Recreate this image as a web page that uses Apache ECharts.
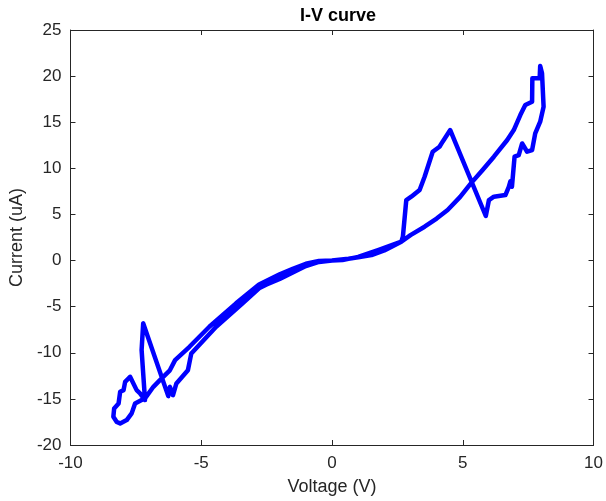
<!DOCTYPE html>
<html>
<head>
<meta charset="utf-8">
<style>
  html, body { margin: 0; padding: 0; background: #fff; }
  #chart { width: 606px; height: 501px; }
</style>
<script src="https://cdn.jsdelivr.net/npm/echarts@6/dist/echarts.min.js"></script>
</head>
<body>
<div id="chart"></div>
<script>
// Measured sweep: voltage (V) and current (uA), in acquisition order
const voltage = [
  0, -0.5, -1.0, -1.5, -2.0, -2.5, -2.79, -3.42,
  -4.43, -5.38, -5.51, -5.95, -6.08, -6.2, -6.26,
  -7.22, -7.28, -7.22, -7.15, -7.34, -7.47, -7.72, -7.91, -7.97, -8.1,
  -8.16, -8.33, -8.36, -8.23, -8.1, -7.85, -7.66, -7.53, -7.28, -7.15,
  -6.83, -6.58, -6.2, -6.0, -5.45, -4.69, -3.67, -2.79, -2.5, -2.0, -1.5, -1.0, -0.5, 0,
  0.63, 1.0, 1.51, 2.0, 2.65,
  2.71, 2.84, 3.03, 3.35, 3.54, 3.85, 4.11, 4.23, 4.52,
  5.88, 6.0, 6.19, 6.63, 6.76, 6.82, 6.88, 6.98, 7.14, 7.27, 7.46, 7.65, 7.77, 7.96, 8.09,
  8.03, 7.96, 7.94, 7.66, 7.65, 7.58, 7.39, 7.2, 6.95, 6.7, 6.19, 5.75, 5.31, 4.9, 4.42, 4.0, 3.54, 3.0, 2.65,
  1.76, 1.0, 0.4, 0
];
const current = [
  0, -0.15, -0.6, -1.3, -2.0, -2.6, -3.0, -4.64,
  -7.18, -10.07, -11.9, -13.32, -14.6, -13.69, -14.7,
  -6.81, -9.7, -12.2, -15.13, -14.4, -14.05, -12.6, -13.15, -14.05, -14.23,
  -15.49, -16.03, -16.94, -17.5, -17.66, -17.3, -16.57, -15.49, -15.13, -14.95,
  -13.69, -12.96, -11.9, -10.8, -9.35, -7.18, -4.64, -2.6, -2.2, -1.5, -0.9, -0.35, -0.05, 0,
  0.2, 0.35, 0.6, 1.1, 2.04,
  2.58, 6.56, 6.92, 7.65, 9.09, 11.8, 12.34, 12.89, 14.15,
  4.83, 6.56, 6.92, 7.1, 8.0, 8.6, 8.0, 11.26, 11.44, 12.7, 11.8, 11.98, 13.8, 15.06, 16.68,
  20.3, 21.1, 19.76, 19.76, 17.22, 17.22, 16.87, 15.78, 14.15, 13.07, 11.26, 9.8, 8.37, 6.9, 5.48, 4.55, 3.67, 2.75, 2.04,
  1.14, 0.4, 0.05, 0
];

const xTicks = [-10, -5, 0, 5, 10];
const yTicks = [-20, -15, -10, -5, 0, 5, 10, 15, 20, 25];

const points = voltage.map((v, i) => [v, current[i]]);

const axisColor = '#262626';
const fontFamily = 'Liberation Sans, Arial, sans-serif';

function valueAxis(opts) {
  return Object.assign({
    type: 'value',
    axisLine: { show: true, onZero: false, lineStyle: { color: axisColor, width: 1 } },
    axisTick: { show: true, inside: true, length: 5, lineStyle: { color: axisColor } },
    splitLine: { show: false },
    axisLabel: { show: false }
  }, opts);
}

const chart = echarts.init(document.getElementById('chart'), null, { renderer: 'canvas' });
chart.setOption({
  animation: false,
  backgroundColor: '#ffffff',
  title: {
    text: 'I-V curve',
    left: 333, top: 2, textAlign: 'center',
    textStyle: { fontFamily, fontWeight: 'bold', fontSize: 18, color: '#000' }
  },
  grid: { left: 70, right: 9, top: 30, bottom: 56 },
  xAxis: [
    valueAxis({
      min: xTicks[0], max: xTicks[xTicks.length - 1], interval: 5,
      position: 'bottom',
      name: 'Voltage (V)', nameLocation: 'middle', nameGap: 33,
      nameTextStyle: { fontFamily, fontSize: 18, color: axisColor },
      axisLabel: { show: true, fontFamily, fontSize: 17, color: axisColor, margin: 10 }
    }),
    valueAxis({ min: xTicks[0], max: xTicks[xTicks.length - 1], interval: 5, position: 'top' })
  ],
  yAxis: [
    valueAxis({
      min: yTicks[0], max: yTicks[yTicks.length - 1], interval: 5,
      position: 'left',
      name: 'Current (uA)', nameLocation: 'middle', nameGap: 38,
      nameTextStyle: { fontFamily, fontSize: 18, color: axisColor },
      axisLabel: { show: true, fontFamily, fontSize: 17, color: axisColor, margin: 9 }
    }),
    valueAxis({ min: yTicks[0], max: yTicks[yTicks.length - 1], interval: 5, position: 'right' })
  ],
  series: [{
    type: 'line',
    data: points,
    xAxisIndex: 0, yAxisIndex: 0,
    showSymbol: false,
    smooth: false,
    lineStyle: { color: '#0000ff', width: 4.5, join: 'round', cap: 'round' }
  }]
});
</script>
</body>
</html>
